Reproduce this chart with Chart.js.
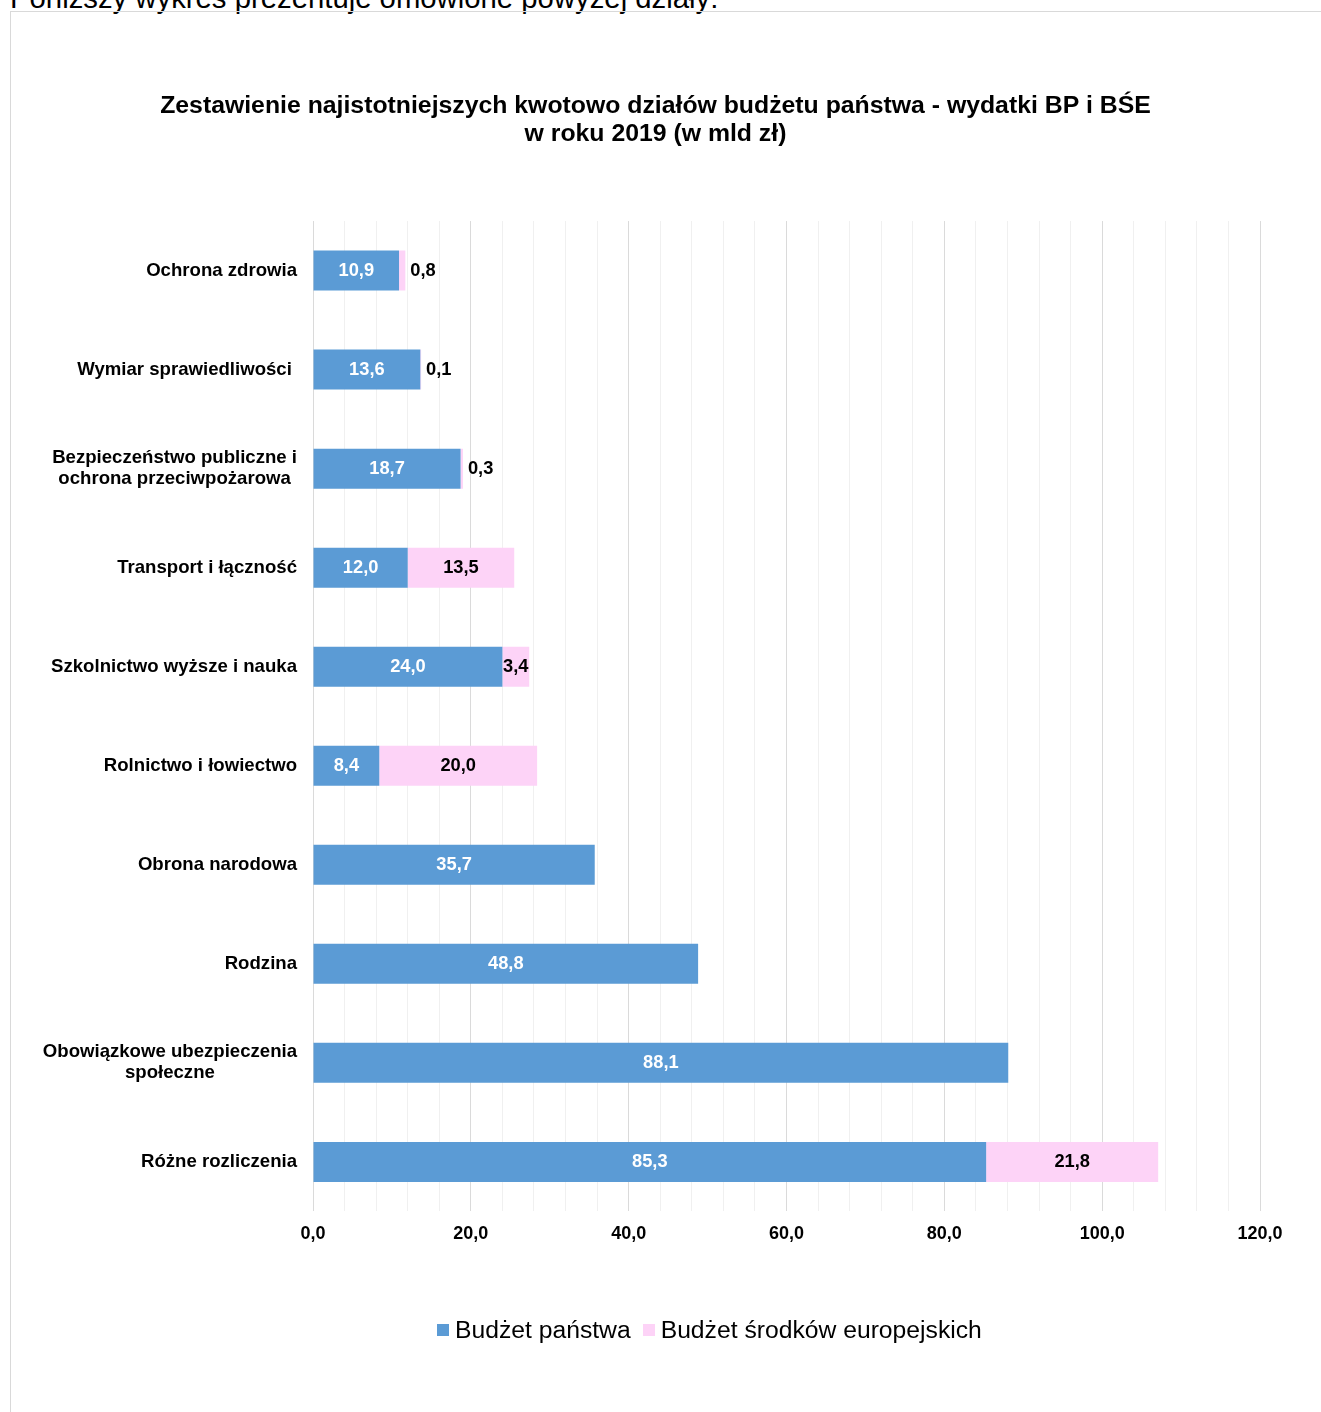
<!DOCTYPE html>
<html lang="pl">
<head>
<meta charset="utf-8">
<title>Wydatki BP i BŚE 2019</title>
<script src="https://cdn.jsdelivr.net/npm/chart.js@4.4.1/dist/chart.umd.min.js"></script>
<style>
  html, body { margin: 0; padding: 0; background: #fff; }
  body { width: 1321px; height: 1412px; position: relative; overflow: hidden;
         font-family: "Liberation Sans", Arial, sans-serif; }
  #intro { position: absolute; left: 10px; top: -16px; font-size: 29.3px; line-height: 28px;
           color: #000; white-space: nowrap; }
  #frame { position: absolute; left: 10px; top: 11px; right: 0; bottom: 0;
           border-left: 1px solid #d9d9d9; border-top: 1px solid #d9d9d9; }
  #wykres { position: absolute; left: 0; top: 0; }
  #legenda { position: absolute; left: 437px; top: 1316px; display: flex; align-items: center;
             font-size: 24.7px; line-height: 28px; color: #000; white-space: nowrap; }
  #legenda .item { display: flex; align-items: center; margin-right: 12px; }
  #legenda .box { width: 12px; height: 12px; margin-right: 6px; }
</style>
</head>
<body>
<div id="intro">Poniższy wykres prezentuje omówione powyżej działy:</div>
<div id="frame"></div>
<canvas id="wykres" width="1321" height="1412"></canvas>
<div id="legenda"></div>

<script>
// dane w mld zł
const categories = [
    'Ochrona zdrowia',
    'Wymiar sprawiedliwości ',
    ['Bezpieczeństwo publiczne i', 'ochrona przeciwpożarowa'],
    'Transport i łączność',
    'Szkolnictwo wyższe i nauka',
    'Rolnictwo i łowiectwo',
    'Obrona narodowa',
    'Rodzina',
    ['Obowiązkowe ubezpieczenia', 'społeczne'],
    'Różne rozliczenia'
];
const budzetPanstwa = [10.9, 13.6, 18.7, 12.0, 24.0, 8.4, 35.7, 48.8, 88.1, 85.3];
const budzetUE = [0.8, 0.1, 0.3, 13.5, 3.4, 20.0, null, null, null, 21.8];
const seriesNames = ['Budżet państwa', 'Budżet środków europejskich'];
const xMin = 0, xMax = 120, xMajor = 20, xMinor = 4;

const colors = {
    blue: '#5b9bd5',
    pink: '#fdd3f7',
    gridMajor: '#dadada',
    gridMinor: '#f0f0f0'
};

Chart.defaults.font.family = '"Liberation Sans", Arial, sans-serif';
Chart.defaults.color = '#000';

function fmt(v) {
    return v.toFixed(1).replace('.', ',');
}

// etykiety kategorii: blok wyrownany do prawej, linie wysrodkowane
const categoryLabels = {
    id: 'categoryLabels',
    afterDraw(chart) {
        const ctx = chart.ctx;
        const yScale = chart.scales.y;
        const right = chart.chartArea.left - 16;
        const lh = 21;
        ctx.save();
        ctx.font = 'bold 18.6px "Liberation Sans", Arial, sans-serif';
        ctx.fillStyle = '#000';
        ctx.textBaseline = 'middle';
        ctx.textAlign = 'center';
        categories.forEach(function (lab, i) {
            const lines = Array.isArray(lab) ? lab : [lab];
            let maxW = 0;
            lines.forEach(function (l) { maxW = Math.max(maxW, ctx.measureText(l).width); });
            const cx = right - maxW / 2;
            const yc = yScale.getPixelForValue(i);
            const y0 = yc - (lines.length - 1) * lh / 2;
            lines.forEach(function (l, k) { ctx.fillText(l, cx, y0 + k * lh); });
        });
        ctx.restore();
    }
};

// wartosci na slupkach
const barValues = {
    id: 'barValues',
    afterDatasetsDraw(chart) {
        const ctx = chart.ctx;
        ctx.save();
        ctx.font = 'bold 18.3px "Liberation Sans", Arial, sans-serif';
        ctx.textBaseline = 'middle';
        chart.data.datasets.forEach(function (ds, di) {
            const meta = chart.getDatasetMeta(di);
            meta.data.forEach(function (bar, i) {
                const v = ds.data[i];
                if (v === null || v === undefined) return;
                const p = bar.getProps(['x', 'y', 'base'], true);
                const txt = fmt(v);
                const w = Math.abs(p.x - p.base);
                const tw = ctx.measureText(txt).width;
                if (w >= tw) {
                    ctx.textAlign = 'center';
                    ctx.fillStyle = di === 0 ? '#fff' : '#000';
                    ctx.fillText(txt, (p.x + p.base) / 2, p.y);
                } else {
                    ctx.textAlign = 'left';
                    ctx.fillStyle = '#000';
                    ctx.fillText(txt, p.x + 5, p.y);
                }
            });
        });
        ctx.restore();
    }
};

const ctx = document.getElementById('wykres').getContext('2d');
const chart = new Chart(ctx, {
    type: 'bar',
    data: {
        labels: categories,
        datasets: [{
            label: seriesNames[0],
            data: budzetPanstwa,
            backgroundColor: colors.blue,
            borderWidth: 0
        }, {
            label: seriesNames[1],
            data: budzetUE,
            backgroundColor: colors.pink,
            borderWidth: 0
        }]
    },
    options: {
        indexAxis: 'y',
        responsive: false,
        animation: false,
        devicePixelRatio: 1,
        layout: { padding: { left: 0, right: 10, top: 0, bottom: 155 } },
        datasets: { bar: { categoryPercentage: 1, barPercentage: 0.404 } },
        plugins: {
            legend: { display: false },
            tooltip: { enabled: false },
            title: {
                display: true,
                text: ['Zestawienie najistotniejszych kwotowo działów budżetu państwa - wydatki BP i BŚE',
                       'w roku 2019 (w mld zł)'],
                font: { size: 24.8, weight: 'bold', lineHeight: 1.13 },
                color: '#000',
                padding: { top: 92, bottom: 73 }
            }
        },
        scales: {
            x: {
                stacked: true,
                min: xMin,
                max: xMax,
                border: { display: false },
                grid: {
                    drawTicks: false,
                    color: function (c) {
                        return c.tick && c.tick.value % xMajor === 0 ? colors.gridMajor : colors.gridMinor;
                    }
                },
                ticks: {
                    stepSize: xMinor,
                    maxTicksLimit: 100,
                    autoSkip: false,
                    maxRotation: 0,
                    padding: 12,
                    font: { size: 18, weight: 'bold' },
                    color: '#000',
                    callback: function (v) {
                        return v % xMajor === 0 ? fmt(v) : '';
                    }
                }
            },
            y: {
                stacked: true,
                border: { display: false },
                grid: { display: false },
                ticks: { display: false },
                afterFit: function (s) { s.width = 313; }
            },
            yRight: {
                type: 'linear',
                position: 'right',
                border: { display: false },
                grid: { display: false },
                ticks: { display: false },
                afterFit: function (s) { s.width = 51; }
            }
        }
    },
    plugins: [categoryLabels, barValues]
});

// legenda pod wykresem
const legendEl = document.getElementById('legenda');
chart.data.datasets.forEach(function (ds) {
    const item = document.createElement('div');
    item.className = 'item';
    const box = document.createElement('span');
    box.className = 'box';
    box.style.background = ds.backgroundColor;
    const txt = document.createElement('span');
    txt.textContent = ds.label;
    item.appendChild(box);
    item.appendChild(txt);
    legendEl.appendChild(item);
});
</script>
</body>
</html>
